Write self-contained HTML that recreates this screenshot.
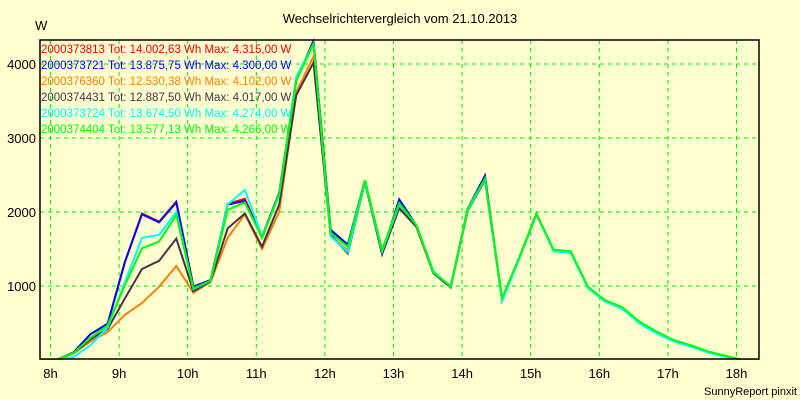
<!DOCTYPE html>
<html><head><meta charset="utf-8"><style>
html,body{margin:0;padding:0;background:#ffffd0;}
svg{display:block;font-family:"Liberation Sans",sans-serif;}
</style></head><body>
<svg id="chart" width="800" height="400" viewBox="0 0 800 400" xmlns="http://www.w3.org/2000/svg">
<rect x="0" y="0" width="800" height="400" fill="#ffffd0"/>
<text x="400" y="23" text-anchor="middle" font-size="13" fill="#000">Wechselrichtervergleich vom 21.10.2013</text>
<text x="35" y="30" font-size="13" fill="#000">W</text>
<text x="797" y="395" text-anchor="end" font-size="11" fill="#000">SunnyReport pinxit</text>
<g id="grid"></g>
<g id="axes"></g>
<g id="lines"></g>
<rect x="40" y="40" width="719" height="319" fill="none" stroke="#000" stroke-width="1.5"/>
<g id="legend"></g>
</svg>
<script>
const times = ["7:50","8:05","8:20","8:35","8:50","9:05","9:20","9:35","9:50","10:05","10:20","10:35","10:50","11:05","11:20","11:35","11:50","12:05","12:20","12:35","12:50","13:05","13:20","13:35","13:50","14:05","14:20","14:35","14:50","15:05","15:20","15:35","15:50","16:05","16:20","16:35","16:50","17:05","17:20","17:35","17:50","18:05","18:20"];
const xTicks = ["8h","9h","10h","11h","12h","13h","14h","15h","16h","17h","18h"];
const xTickHours = [8,9,10,11,12,13,14,15,16,17,18];
const yTicks = [1000,2000,3000,4000];
const seriesNames = ["2000373813","2000373721","2000376360","2000374431","2000373724","2000374404"];
const seriesTotals = ["14.002,63","13.875,75","12.530,38","12.887,50","13.674,50","13.577,13"];
const seriesMax = ["4.315,00","4.300,00","4.102,00","4.017,00","4.274,00","4.266,00"];
const seriesColors = ["#ff0000","#0000ff","#ff8000","#4a3048","#00ffff","#00ff00"];
const redVals = [0,0,100,350,490,1320,1980,1870,2140,990,1080,2110,2180,1650,2250,3780,4315,1740,1540,2430,1460,2140,1810,1180,990,2040,2460,810,1380,1980,1480,1460,980,800,705,510,375,265,195,110,55,0,0];
const blueVals = [0,0,100,350,490,1320,1970,1860,2130,990,1080,2100,2150,1670,2260,3800,4300,1760,1560,2430,1440,2170,1820,1180,990,2050,2490,810,1380,1980,1480,1460,980,800,705,510,375,265,195,110,55,0,0];
const orangeVals = [0,0,90,250,380,610,770,990,1270,905,1060,1650,1970,1500,2000,3620,4102,1680,1480,2410,1440,2080,1800,1170,990,2030,2440,810,1380,1970,1480,1460,980,800,705,510,375,265,195,110,55,0,0];
const brownVals = [0,0,90,280,420,830,1230,1340,1640,930,1060,1780,1980,1530,2100,3580,4017,1690,1440,2400,1430,2050,1800,1170,980,2020,2430,800,1370,1970,1470,1450,980,800,700,505,370,260,190,105,50,0,0];
const cyanVals = [0,0,40,200,440,1050,1650,1690,2000,960,1070,2100,2300,1670,2230,3830,4274,1670,1460,2410,1470,2100,1830,1200,990,2030,2440,800,1370,1970,1470,1450,970,790,690,495,360,250,180,100,45,0,0];
const greenVals = [0,0,95,300,470,1010,1510,1600,1960,970,1070,2030,2130,1650,2250,3780,4266,1720,1530,2430,1490,2120,1820,1180,1000,2050,2450,840,1390,1980,1490,1470,990,810,715,520,385,270,200,115,60,0,0];
const allSeries = [redVals,blueVals,orangeVals,brownVals,cyanVals,greenVals];

const NS = "http://www.w3.org/2000/svg";
const X0 = 50.5, PXH = 68.6, Y0 = 360, PXW = 0.074;
function xScale(h){ return X0 + (h - 8) * PXH; }
function yScale(v){ return Y0 - v * PXW; }
function parseTime(s){ const p = s.split(":"); return +p[0] + (+p[1]) / 60; }
function mk(tag, parent){ const e = document.createElementNS(NS, tag); parent.appendChild(e); return e; }

const grid = document.getElementById("grid");
const axes = document.getElementById("axes");
xTickHours.forEach((h, i) => {
  const x = xScale(h);
  const l = mk("line", grid);
  
  
  l.setAttribute("x1", x); l.setAttribute("x2", x); l.setAttribute("y1", 40); l.setAttribute("y2", 359);
  l.setAttribute("stroke", "#00ee00"); l.setAttribute("stroke-dasharray", "4,4");
  const t = mk("text", axes);
  
  
  t.setAttribute("x", x); t.setAttribute("y", 378); t.setAttribute("text-anchor", "middle");
  t.setAttribute("font-size", "13");
  t.textContent = xTicks[i];
});
yTicks.forEach(v => {
  const y = yScale(v);
  const l = mk("line", grid);
  
  
  l.setAttribute("x1", 40); l.setAttribute("x2", 759); l.setAttribute("y1", y); l.setAttribute("y2", y);
  l.setAttribute("stroke", "#00ee00"); l.setAttribute("stroke-dasharray", "4,4");
  const t = mk("text", axes);
  
  
  t.setAttribute("x", 36); t.setAttribute("y", y + 5); t.setAttribute("text-anchor", "end");
  t.setAttribute("font-size", "13");
  t.textContent = String(v);
});

const linesG = document.getElementById("lines");
const clip = mk("clipPath", linesG); clip.setAttribute("id", "plotclip");
const cr = mk("rect", clip); cr.setAttribute("x", 40); cr.setAttribute("y", 38); cr.setAttribute("width", 719); cr.setAttribute("height", 322);
allSeries.forEach((vals, si) => {
  const pts = vals.map((v, i) => xScale(parseTime(times[i])).toFixed(1) + "," + yScale(v).toFixed(1)).join(" ");
  const pl = mk("polyline", linesG);
  
  
  pl.setAttribute("points", pts); pl.setAttribute("fill", "none");
  pl.setAttribute("stroke", seriesColors[si]); pl.setAttribute("stroke-width", "2");
  pl.setAttribute("clip-path", "url(#plotclip)");
});

const legend = document.getElementById("legend");
seriesNames.forEach((n, i) => {
  const t = mk("text", legend);
  
  
  t.setAttribute("x", 41); t.setAttribute("y", 53 + i * 16);
  t.setAttribute("font-size", "11.5"); t.setAttribute("fill", seriesColors[i]);
  t.textContent = n + " Tot: " + seriesTotals[i] + " Wh Max: " + seriesMax[i] + " W";
});
</script>
</body></html>
